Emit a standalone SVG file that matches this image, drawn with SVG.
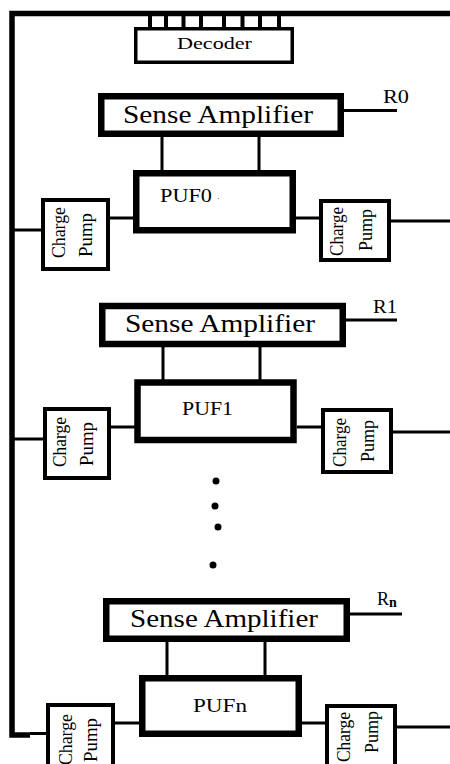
<svg xmlns="http://www.w3.org/2000/svg" width="450" height="764" viewBox="0 0 450 764">
<style>
text{font-family:"Liberation Serif",serif;fill:#000}
.sa{fill:#fff;stroke:#000;stroke-width:6.5}
.puf{fill:#fff;stroke:#000;stroke-width:6.5}
.cp{fill:#fff;stroke:#000;stroke-width:4}
.dec{fill:#fff;stroke:#000;stroke-width:3.5}
.w{stroke:#000;stroke-width:3;fill:none}
.bus{stroke:#000;stroke-width:5.5;fill:none}
.tick{stroke:#000;stroke-width:4}
.sat{font-size:25px}
.pt{font-size:18px}
.cpt{font-size:19px}
.rl{font-size:18px}
</style>
<rect width="450" height="764" fill="#fff"/>
<g id="connectors">
<polyline class="bus" points="450,13.5 12,13.5 12,735 30,735"/>
<line class="w" x1="30" y1="733.5" x2="46" y2="733.5"/>
<g class="tick">
<line x1="150" y1="15" x2="150" y2="28"/><line x1="166" y1="15" x2="166" y2="28"/>
<line x1="183.5" y1="15" x2="183.5" y2="28"/><line x1="201" y1="15" x2="201" y2="28"/>
<line x1="224" y1="15" x2="224" y2="28"/><line x1="242.5" y1="15" x2="242.5" y2="28"/>
<line x1="260" y1="15" x2="260" y2="28"/><line x1="279" y1="15" x2="279" y2="28"/>
</g>
<line class="w" x1="344" y1="110.5" x2="397" y2="110.5"/>
<line class="w" x1="162" y1="137" x2="162" y2="171"/>
<line class="w" x1="259" y1="137" x2="259" y2="171"/>
<line class="w" x1="12" y1="230" x2="42" y2="230"/>
<line class="w" x1="110" y1="218" x2="134" y2="218"/>
<line class="w" x1="296" y1="218" x2="320" y2="218"/>
<line class="w" x1="391" y1="221" x2="450" y2="221"/>
<line class="w" x1="346" y1="320" x2="397" y2="320"/>
<line class="w" x1="163" y1="347" x2="163" y2="380"/>
<line class="w" x1="260" y1="347" x2="260" y2="380"/>
<line class="w" x1="12" y1="439" x2="44" y2="439"/>
<line class="w" x1="111" y1="427" x2="135" y2="427"/>
<line class="w" x1="297" y1="427" x2="322" y2="427"/>
<line class="w" x1="393" y1="432" x2="450" y2="432"/>
<line class="w" x1="350" y1="614" x2="402" y2="614"/>
<line class="w" x1="167" y1="642" x2="167" y2="676"/>
<line class="w" x1="265" y1="642" x2="265" y2="676"/>
<line class="w" x1="115" y1="723" x2="140" y2="723"/>
<line class="w" x1="302" y1="723" x2="326" y2="723"/>
<line class="w" x1="397" y1="727" x2="450" y2="727"/>
</g>
<g id="decoder">
<rect class="dec" x="135.75" y="28.75" width="156.5" height="33.5"/>
<text font-family="Liberation Serif, serif" x="177" y="49" font-size="17" textLength="75" lengthAdjust="spacingAndGlyphs">Decoder</text>
</g>
<g id="sa0">
<rect class="sa" x="101.25" y="96.25" width="239.5" height="37.5"/>
<text font-family="Liberation Serif, serif" class="sat" x="123" y="123" textLength="190" lengthAdjust="spacingAndGlyphs">Sense Amplifier</text>
<text font-family="Liberation Serif, serif" class="rl" x="383" y="103" textLength="26" lengthAdjust="spacingAndGlyphs">R0</text>
</g>
<g id="puf0">
<rect class="puf" x="136.25" y="173.25" width="156.5" height="57"/>
<text font-family="Liberation Serif, serif" class="pt" x="160" y="202" textLength="52" lengthAdjust="spacingAndGlyphs">PUF0</text>
<text font-family="Liberation Serif, serif" x="217" y="201" font-size="8">·</text>
</g>
<g id="cp0l">
<rect class="cp" x="43" y="200" width="65" height="69"/>
<text font-family="Liberation Serif, serif" class="cpt" transform="translate(65,258) rotate(-90)" textLength="51" lengthAdjust="spacingAndGlyphs">Charge</text>
<text font-family="Liberation Serif, serif" class="cpt" transform="translate(92,257) rotate(-90)" textLength="44" lengthAdjust="spacingAndGlyphs">Pump</text>
</g>
<g id="cp0r">
<rect class="cp" x="321" y="201" width="68" height="59"/>
<text font-family="Liberation Serif, serif" class="cpt" transform="translate(343,256) rotate(-90)" textLength="49" lengthAdjust="spacingAndGlyphs">Charge</text>
<text font-family="Liberation Serif, serif" class="cpt" transform="translate(372,251) rotate(-90)" textLength="42" lengthAdjust="spacingAndGlyphs">Pump</text>
</g>
<g id="sa1">
<rect class="sa" x="102.25" y="306" width="240.5" height="38"/>
<text font-family="Liberation Serif, serif" class="sat" x="125" y="332" textLength="190" lengthAdjust="spacingAndGlyphs">Sense Amplifier</text>
<text font-family="Liberation Serif, serif" class="rl" x="373" y="313" textLength="24" lengthAdjust="spacingAndGlyphs">R1</text>
</g>
<g id="puf1">
<rect class="puf" x="137.5" y="382.5" width="156" height="57.5"/>
<text font-family="Liberation Serif, serif" class="pt" x="182" y="415" textLength="51" lengthAdjust="spacingAndGlyphs">PUF1</text>
</g>
<g id="cp1l">
<rect class="cp" x="45" y="409" width="64" height="69"/>
<text font-family="Liberation Serif, serif" class="cpt" transform="translate(66,467) rotate(-90)" textLength="50" lengthAdjust="spacingAndGlyphs">Charge</text>
<text font-family="Liberation Serif, serif" class="cpt" transform="translate(93,466) rotate(-90)" textLength="44" lengthAdjust="spacingAndGlyphs">Pump</text>
</g>
<g id="cp1r">
<rect class="cp" x="323" y="410" width="68" height="62"/>
<text font-family="Liberation Serif, serif" class="cpt" transform="translate(346,467) rotate(-90)" textLength="49" lengthAdjust="spacingAndGlyphs">Charge</text>
<text font-family="Liberation Serif, serif" class="cpt" transform="translate(374,462) rotate(-90)" textLength="42" lengthAdjust="spacingAndGlyphs">Pump</text>
</g>
<g id="dots">
<circle cx="216" cy="481" r="3.5"/>
<circle cx="215" cy="506" r="3.5"/>
<circle cx="218" cy="527" r="3.5"/>
<circle cx="213" cy="565" r="3.5"/>
</g>
<g id="san">
<rect class="sa" x="106.25" y="601.25" width="240.5" height="37.5"/>
<text font-family="Liberation Serif, serif" class="sat" x="130" y="627" textLength="188" lengthAdjust="spacingAndGlyphs">Sense Amplifier</text>
<text font-family="Liberation Serif, serif" class="rl" x="377" y="605">R<tspan font-size="14" font-weight="bold" dy="2">n</tspan></text>
</g>
<g id="pufn">
<rect class="puf" x="142.25" y="678.25" width="156.5" height="55.5"/>
<text font-family="Liberation Serif, serif" class="pt" x="193" y="712" textLength="54" lengthAdjust="spacingAndGlyphs">PUFn</text>
</g>
<g id="cpnl">
<rect class="cp" x="48" y="705" width="65" height="70"/>
<text font-family="Liberation Serif, serif" class="cpt" transform="translate(72,765) rotate(-90)" textLength="51" lengthAdjust="spacingAndGlyphs">Charge</text>
<text font-family="Liberation Serif, serif" class="cpt" transform="translate(97,762) rotate(-90)" textLength="44" lengthAdjust="spacingAndGlyphs">Pump</text>
</g>
<g id="cpnr">
<rect class="cp" x="327" y="706" width="68" height="70"/>
<text font-family="Liberation Serif, serif" class="cpt" transform="translate(350,762) rotate(-90)" textLength="50" lengthAdjust="spacingAndGlyphs">Charge</text>
<text font-family="Liberation Serif, serif" class="cpt" transform="translate(378,753) rotate(-90)" textLength="42" lengthAdjust="spacingAndGlyphs">Pump</text>
</g>
</svg>
